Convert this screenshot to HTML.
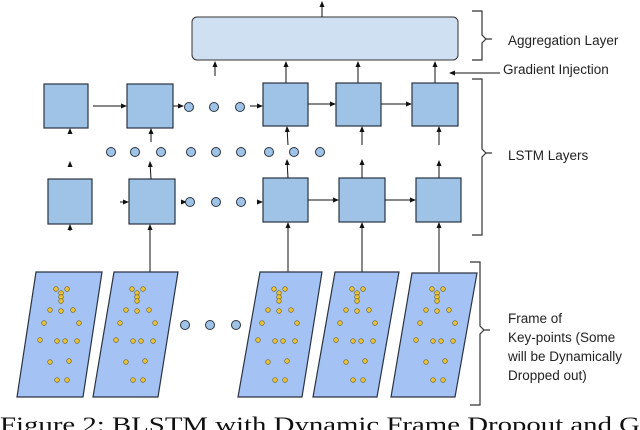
<!DOCTYPE html>
<html><head><meta charset="utf-8"><style>
html,body{margin:0;padding:0;background:#fff;}
svg{display:block;}
text{font-family:"Liberation Sans",sans-serif;fill:#222;}
</style></head><body>
<svg width="640" height="430" viewBox="0 0 640 430" xmlns="http://www.w3.org/2000/svg">
<defs>
<marker id="a" markerWidth="6" markerHeight="6" refX="5" refY="3" orient="auto" markerUnits="userSpaceOnUse"><path d="M0,0.5 L6,3 L0,5.5z" fill="#111"/></marker>
<g id="kp" fill="#e8c23a" stroke="#6b5a10" stroke-width="0.6">
<circle cx="56" cy="289" r="2.3"/><circle cx="67" cy="289" r="2.3"/>
<circle cx="61" cy="293" r="2.3"/><circle cx="61" cy="297" r="2.3"/><circle cx="61" cy="301" r="2.3"/>
<circle cx="50" cy="310" r="2.3"/><circle cx="61" cy="311" r="2.3"/><circle cx="73" cy="310" r="2.3"/>
<circle cx="44" cy="323" r="2.3"/><circle cx="79" cy="323" r="2.3"/>
<circle cx="40" cy="340" r="2.3"/><circle cx="57" cy="341" r="2.3"/><circle cx="65" cy="341" r="2.3"/><circle cx="77" cy="341" r="2.3"/>
<circle cx="50" cy="362" r="2.3"/><circle cx="69" cy="361" r="2.3"/>
<circle cx="57" cy="380" r="2.3"/><circle cx="67" cy="380" r="2.3"/>
</g>
</defs>

<rect x="192" y="17" width="266" height="43" rx="5" fill="#cfe0f2" stroke="#333" stroke-width="1"/>
<line x1="322" y1="17" x2="322" y2="2" stroke="#111" marker-end="url(#a)"/>
<g stroke="#111" stroke-width="1">
<line x1="215" y1="76" x2="215" y2="62" marker-end="url(#a)"/>
<line x1="286" y1="83" x2="286" y2="62" marker-end="url(#a)"/>
<line x1="358" y1="83" x2="358" y2="62" marker-end="url(#a)"/>
<line x1="435" y1="83" x2="435" y2="62" marker-end="url(#a)"/>
</g>

<g fill="#9fc3e7" stroke="#2a3340" stroke-width="1.2">
<rect x="44" y="84" width="44" height="44"/>
<rect x="127" y="84" width="46" height="44"/>
<rect x="263" y="83" width="45" height="43"/>
<rect x="336" y="83" width="45" height="43"/>
<rect x="412" y="83" width="46" height="43"/>
<rect x="48" y="179" width="44" height="45"/>
<rect x="129" y="179" width="46" height="45"/>
<rect x="263" y="178" width="45" height="44"/>
<rect x="339" y="178" width="46" height="44"/>
<rect x="416" y="178" width="45" height="44"/>
</g>
<g stroke="#111" stroke-width="1">
<line x1="93" y1="106" x2="126" y2="106" marker-end="url(#a)"/>
<line x1="173" y1="106" x2="183" y2="106" marker-end="url(#a)"/>
<line x1="250" y1="106" x2="262" y2="106" marker-end="url(#a)"/>
<line x1="308" y1="104" x2="335" y2="104" marker-end="url(#a)"/>
<line x1="381" y1="104" x2="411" y2="104" marker-end="url(#a)"/>
<line x1="120" y1="202" x2="128" y2="202" marker-end="url(#a)"/>
<line x1="181" y1="202" x2="186" y2="202" marker-end="url(#a)"/>
<line x1="257" y1="202" x2="262" y2="202" marker-end="url(#a)"/>
<line x1="308" y1="200" x2="338" y2="200" marker-end="url(#a)"/>
<line x1="385" y1="200" x2="415" y2="200" marker-end="url(#a)"/>
<line x1="151" y1="142" x2="151" y2="129" marker-end="url(#a)"/>
<line x1="151" y1="179" x2="150" y2="162" marker-end="url(#a)"/>
<line x1="288" y1="145" x2="287" y2="127" marker-end="url(#a)"/>
<line x1="288" y1="178" x2="287" y2="160" marker-end="url(#a)"/>
<line x1="362" y1="145" x2="362" y2="127" marker-end="url(#a)"/>
<line x1="362" y1="178" x2="362" y2="160" marker-end="url(#a)"/>
<line x1="439" y1="145" x2="439" y2="127" marker-end="url(#a)"/>
<line x1="439" y1="178" x2="439" y2="161" marker-end="url(#a)"/>
<line x1="70" y1="134" x2="70" y2="129" marker-end="url(#a)"/>
<line x1="70" y1="167" x2="70" y2="162" marker-end="url(#a)"/>
<line x1="70" y1="231" x2="70" y2="225" marker-end="url(#a)"/>
<line x1="150" y1="272" x2="150" y2="225" marker-end="url(#a)"/>
<line x1="288" y1="272" x2="288" y2="223" marker-end="url(#a)"/>
<line x1="362" y1="272" x2="362" y2="223" marker-end="url(#a)"/>
<line x1="439" y1="272" x2="439" y2="223" marker-end="url(#a)"/>
</g>
<g fill="#9fc3e7" stroke="#2a3340" stroke-width="1">
<circle cx="189" cy="107" r="4.5"/><circle cx="214" cy="107" r="4.5"/><circle cx="240" cy="107" r="4.5"/>
<circle cx="111" cy="152" r="4.5"/><circle cx="135" cy="152" r="4.5"/><circle cx="161" cy="152" r="4.5"/>
<circle cx="191" cy="152" r="4.5"/><circle cx="216" cy="152" r="4.5"/><circle cx="241" cy="152" r="4.5"/>
<circle cx="269" cy="152" r="4.5"/><circle cx="294" cy="152" r="4.5"/><circle cx="320" cy="152" r="4.5"/>
<circle cx="190" cy="202" r="4.5"/><circle cx="216" cy="202" r="4.5"/><circle cx="241" cy="202" r="4.5"/>
<circle cx="185" cy="325" r="4.5"/><circle cx="210" cy="325" r="4.5"/><circle cx="236" cy="325" r="4.5"/>
</g>
<g fill="#a4c2f4" stroke="#2a3340" stroke-width="1.2">
<polygon points="36,272 102,272 83,397 17,397"/>
<polygon points="114,272 178,272 158,397 93,397"/>
<polygon points="260,272 322,272 302,397 238,397"/>
<polygon points="335,272 399,272 377,397 313,397"/>
<polygon points="412,273 477,273 455,397 391,397"/>
</g>
<use href="#kp"/>
<use href="#kp" transform="translate(76,0)"/>
<use href="#kp" transform="translate(218,0)"/>
<use href="#kp" transform="translate(296,0)"/>
<use href="#kp" transform="translate(376,0)"/>

<g fill="none" stroke="#333" stroke-width="1.2">
<path d="M472,11 h10 v24 l4,4 h6 M486,39 l-4,4 v17 h-10"/>
<path d="M472,79 h10 v70 l4,4 h6 M486,153 l-4,4 v78 h-10"/>
<path d="M470,262 h10 v64 l4,4 h6 M484,330 l-4,4 v71 h-10"/>
</g>
<line x1="500" y1="73" x2="450" y2="73" stroke="#111" marker-end="url(#a)"/>
<g font-size="13.5">
<text x="508" y="45">Aggregation Layer</text>
<text x="503" y="74">Gradient Injection</text>
<text x="508" y="160">LSTM Layers</text>
<text x="508" y="323">Frame of</text>
<text x="508" y="342">Key-points (Some</text>
<text x="508" y="361">will be Dynamically</text>
<text x="508" y="380">Dropped out)</text>
</g>
<text x="0" y="432" font-size="22" style="font-family:'Liberation Serif',serif;fill:#111" textLength="640" lengthAdjust="spacingAndGlyphs">Figure 2: BLSTM with Dynamic Frame Dropout and G</text>
</svg>
</body></html>
